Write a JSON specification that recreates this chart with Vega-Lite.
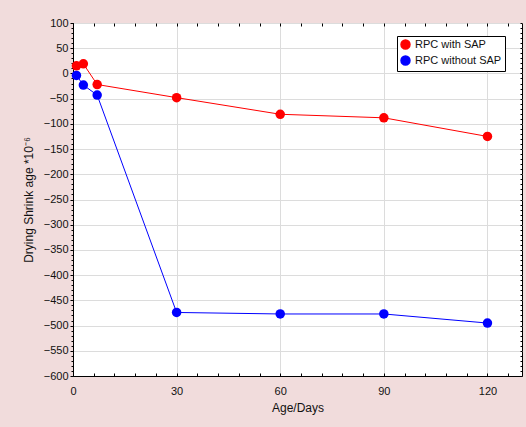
{
  "$schema": "https://vega.github.io/schema/vega-lite/v6.json",
  "width": 449,
  "height": 353,
  "autosize": {"type": "none"},
  "padding": {"left": 73, "top": 23, "right": 4, "bottom": 51},
  "background": "#f1dcdc",
  "config": {
    "view": {"fill": "white", "stroke": "black", "strokeWidth": 1},
    "font": "Liberation Sans",
    "axis": {
      "labelFont": "Liberation Sans",
      "titleFont": "Liberation Sans",
      "labelFontSize": 11,
      "titleFontSize": 12,
      "titleFontWeight": "normal",
      "labelColor": "#111111",
      "titleColor": "#111111",
      "domainColor": "black",
      "tickColor": "black",
      "labelFlush": false,
      "labelOverlap": false
    }
  },
  "data": {
    "values": [
      {"day": 1, "value": 15, "series": "RPC with SAP"},
      {"day": 3, "value": 19, "series": "RPC with SAP"},
      {"day": 7, "value": -22, "series": "RPC with SAP"},
      {"day": 30, "value": -48, "series": "RPC with SAP"},
      {"day": 60, "value": -81, "series": "RPC with SAP"},
      {"day": 90, "value": -88, "series": "RPC with SAP"},
      {"day": 120, "value": -125, "series": "RPC with SAP"},
      {"day": 1, "value": -4, "series": "RPC without SAP"},
      {"day": 3, "value": -23, "series": "RPC without SAP"},
      {"day": 7, "value": -43, "series": "RPC without SAP"},
      {"day": 30, "value": -474, "series": "RPC without SAP"},
      {"day": 60, "value": -477, "series": "RPC without SAP"},
      {"day": 90, "value": -477, "series": "RPC without SAP"},
      {"day": 120, "value": -495, "series": "RPC without SAP"}
    ]
  },
  "layer": [
    {
      "mark": {"type": "point", "opacity": 0},
      "encoding": {
        "x": {
          "field": "day", "type": "quantitative",
          "scale": {"domain": [0, 130], "nice": false, "zero": false},
          "axis": {"orient": "bottom", "values": [0,6,12,18,24,30,36,42,48,54,60,66,72,78,84,90,96,102,108,114,120,126], "labels": false, "grid": false, "domain": false, "tickSize": -3, "title": null}
        },
        "y": {
          "field": "value", "type": "quantitative",
          "scale": {"domain": [-600, 100], "nice": false, "zero": false},
          "axis": {"orient": "left", "values": [-600,-590,-580,-570,-560,-550,-540,-530,-520,-510,-500,-490,-480,-470,-460,-450,-440,-430,-420,-410,-400,-390,-380,-370,-360,-350,-340,-330,-320,-310,-300,-290,-280,-270,-260,-250,-240,-230,-220,-210,-200,-190,-180,-170,-160,-150,-140,-130,-120,-110,-100,-90,-80,-70,-60,-50,-40,-30,-20,-10,0,10,20,30,40,50,60,70,80,90,100], "labels": false, "grid": false, "domain": false, "tickSize": 2, "title": null}
        }
      }
    },
    {
      "mark": {"type": "point", "opacity": 0},
      "encoding": {
        "x": {
          "field": "day", "type": "quantitative",
          "axis": {"orient": "top", "values": [0,6,12,18,24,30,36,42,48,54,60,66,72,78,84,90,96,102,108,114,120,126], "labels": false, "grid": false, "domain": false, "tickSize": -3, "title": null}
        },
        "y": {
          "field": "value", "type": "quantitative",
          "axis": {"orient": "right", "values": [-600,-590,-580,-570,-560,-550,-540,-530,-520,-510,-500,-490,-480,-470,-460,-450,-440,-430,-420,-410,-400,-390,-380,-370,-360,-350,-340,-330,-320,-310,-300,-290,-280,-270,-260,-250,-240,-230,-220,-210,-200,-190,-180,-170,-160,-150,-140,-130,-120,-110,-100,-90,-80,-70,-60,-50,-40,-30,-20,-10,0,10,20,30,40,50,60,70,80,90,100], "labels": false, "grid": false, "domain": false, "tickSize": -2, "title": null}
        }
      }
    },
    {
      "mark": {"type": "line", "strokeWidth": 1, "point": {"filled": true, "size": 90, "opacity": 1}},
      "encoding": {
        "x": {
          "field": "day", "type": "quantitative",
          "axis": {"orient": "bottom", "values": [0, 30, 60, 90, 120], "grid": true, "gridColor": "#dcdcdc", "gridWidth": 1, "tickSize": 0, "labelPadding": 9, "title": "Age/Days", "titlePadding": 6, "domain": true}
        },
        "y": {
          "field": "value", "type": "quantitative",
          "axis": {"orient": "left", "values": [-600,-550,-500,-450,-400,-350,-300,-250,-200,-150,-100,-50,0,50,100], "grid": true, "gridColor": "#dcdcdc", "gridWidth": 1, "tickSize": 3, "labelPadding": 2, "title": "Drying Shrink age *10⁻⁶", "titlePadding": 8, "domain": true}
        },
        "color": {
          "field": "series", "type": "nominal",
          "scale": {"domain": ["RPC with SAP", "RPC without SAP"], "range": ["#ff0000", "#0000ff"]},
          "legend": {
            "title": null,
            "orient": "none",
            "legendX": 324,
            "legendY": 13,
            "fillColor": "white",
            "strokeColor": "black",
            "padding": 3,
            "rowPadding": 1,
            "symbolType": "circle",
            "symbolSize": 80,
            "labelFontSize": 11,
            "labelFont": "Liberation Sans",
            "labelColor": "#111111",
            "labelOffset": 4
          }
        }
      }
    }
  ],
  "resolve": {"axis": {"x": "independent", "y": "independent"}}
}
